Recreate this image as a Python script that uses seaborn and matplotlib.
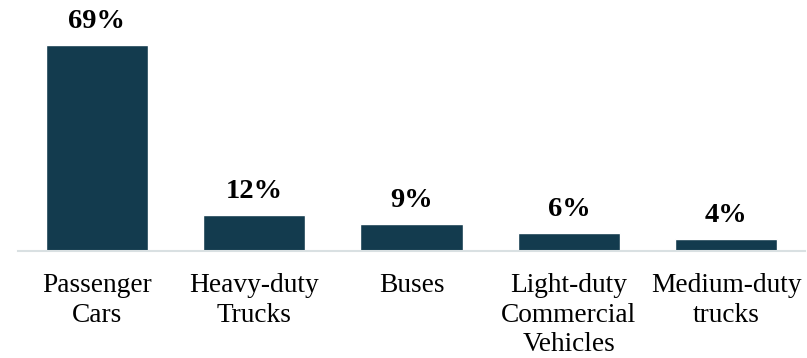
import matplotlib
matplotlib.use("Agg")
import matplotlib.pyplot as plt
import seaborn as sns
import pandas as pd

categories = ["Passenger\nCars", "Heavy-duty\nTrucks", "Buses",
              "Light-duty\nCommercial\nVehicles", "Medium-duty\ntrucks"]
values = [69, 12, 9, 6, 4]
labels = ["69%", "12%", "9%", "6%", "4%"]

sns.set_theme(style="white")
plt.rcParams['font.family'] = ['Liberation Serif', 'DejaVu Serif']

df = pd.DataFrame({"cat": categories, "val": values})

fig = plt.figure(figsize=(8.07, 3.58), dpi=100)
ax = fig.add_axes([18/807, 1 - 251/358, 787/807, 251/358])
sns.barplot(data=df, x="cat", y="val", color="#133B4E", width=0.65,
            saturation=1, ax=ax)
ax.set_xlim(-0.5, 4.5)
ax.set_ylim(0, 84.0)
for i, (v, t) in enumerate(zip(values, labels)):
    ax.text(i, v + 3.6, t, ha="center", va="bottom", fontsize=20.5,
            fontweight="bold", color="black")

ax.set_xlabel("")
ax.set_ylabel("")
ax.set_yticks([])
for s in ["top", "right", "left"]:
    ax.spines[s].set_visible(False)
ax.spines["bottom"].set_color("#D9E0E2")
ax.spines["bottom"].set_linewidth(1.5)
ax.tick_params(axis="x", length=0, pad=16, labelsize=19.7, colors="black")
for lab in ax.get_xticklabels():
    lab.set_linespacing(1.24)

fig.savefig("out.png", dpi=100)
